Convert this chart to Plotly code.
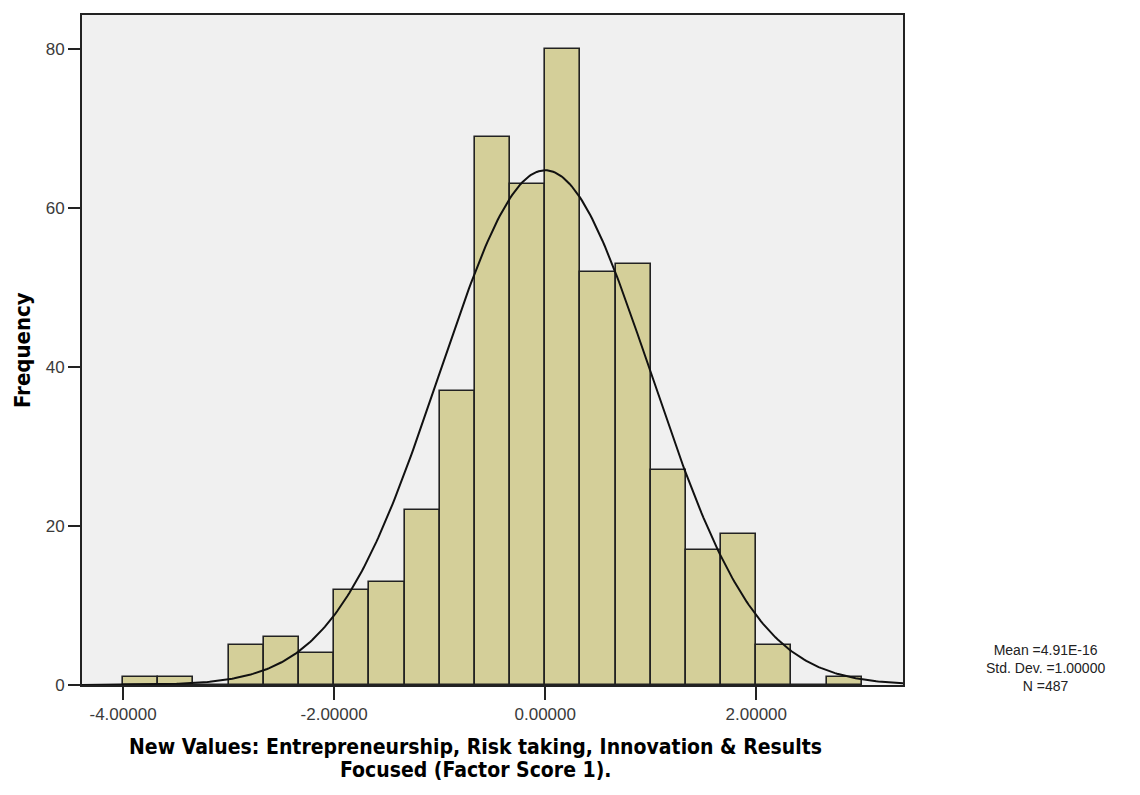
import numpy as np
import plotly.graph_objects as go

# Histogram data (bin width 1/3, first bin starts at -4.0)
bin_start = -4.0
bin_width = 1.0 / 3.0
counts = [1, 1, 0, 5, 6, 4, 12, 13, 22, 37, 69, 63, 80, 52, 53, 27, 17, 19, 5, 0, 1]

# Summary statistics
mean_val = 4.91e-16
std_val = 1.0
n_val = 487

x_tickvals = [-4, -2, 0, 2]
x_ticktext = ["-4.00000", "-2.00000", "0.00000", "2.00000"]
y_tickvals = [0, 20, 40, 60, 80]

x_title_lines = ["New Values: Entrepreneurship, Risk taking, Innovation & Results",
                 "Focused (Factor Score 1)."]

x_range = [-4.389, 3.39]
y_range = [0, 84.3]

centers = [bin_start + bin_width * (i + 0.5) for i in range(len(counts))]

# Fitted normal curve (scaled to frequency)
xc = np.linspace(x_range[0], x_range[1], 400)
yc = n_val * bin_width / (std_val * np.sqrt(2 * np.pi)) * np.exp(-0.5 * ((xc - mean_val) / std_val) ** 2)

fig = go.Figure()
fig.add_trace(go.Bar(
    x=centers, y=counts, width=[bin_width] * len(counts),
    marker=dict(color="#d4cf99", line=dict(color="#222222", width=1.6)),
    showlegend=False, hoverinfo="x+y"))
fig.add_trace(go.Scatter(
    x=xc, y=yc, mode="lines", line=dict(color="#111111", width=2),
    showlegend=False, hoverinfo="skip"))

tick_font = dict(family="Liberation Sans, Arial, sans-serif", size=17, color="#3a3a3a")
title_font = dict(family="Liberation Sans Narrow, Arial Narrow, DejaVu Sans Condensed, sans-serif", size=21, color="#000000")

L, R, T, B = 74, 245, 7, 118
W, H = 1140, 795
pw = W - L - R
ph = H - T - B

fig.update_layout(
    width=W, height=H,
    margin=dict(l=L, r=R, t=T, b=B),
    paper_bgcolor="white", plot_bgcolor="#f0f0f0",
    bargap=0,
    xaxis=dict(range=x_range, tickvals=x_tickvals, ticktext=x_ticktext,
               ticks="outside", ticklen=13, tickwidth=2, tickcolor="#222222",
               showline=True, linecolor="#222222", linewidth=2, mirror=True,
               showgrid=False, zeroline=False, tickfont=tick_font, automargin=False),
    yaxis=dict(range=y_range, tickvals=y_tickvals,
               ticks="outside", ticklen=12, tickwidth=2, tickcolor="#222222",
               showline=True, linecolor="#222222", linewidth=2, mirror=True,
               showgrid=False, zeroline=False, tickfont=tick_font, automargin=False),
)

def paper_y(fig_y):
    return (T + ph - fig_y) / ph

# X axis title (two lines, tight spacing)
for line, fy in zip(x_title_lines, [739, 762]):
    fig.add_annotation(
        xref="paper", yref="paper", x=(467 - L) / pw, y=paper_y(fy),
        text="<b>" + line + "</b>",
        showarrow=False, align="center", xanchor="center", yanchor="middle",
        font=title_font)

# Y axis title
fig.add_annotation(
    xref="paper", yref="paper", x=(14 - L) / pw, y=0.5,
    text="<b>Frequency</b>", textangle=-90,
    showarrow=False, xanchor="center", yanchor="middle",
    font=dict(family=title_font["family"], size=22, color="#000000"))

# Statistics box
fig.add_annotation(
    xref="paper", yref="paper", x=(1037 - L) / pw, y=paper_y(660),
    text="Mean =4.91E-16<br>Std. Dev. =1.00000<br>N =487",
    showarrow=False, align="center", xanchor="center", yanchor="middle",
    font=dict(family="Liberation Sans, Arial, sans-serif", size=14, color="#222222"))

fig.write_html("out.html")
